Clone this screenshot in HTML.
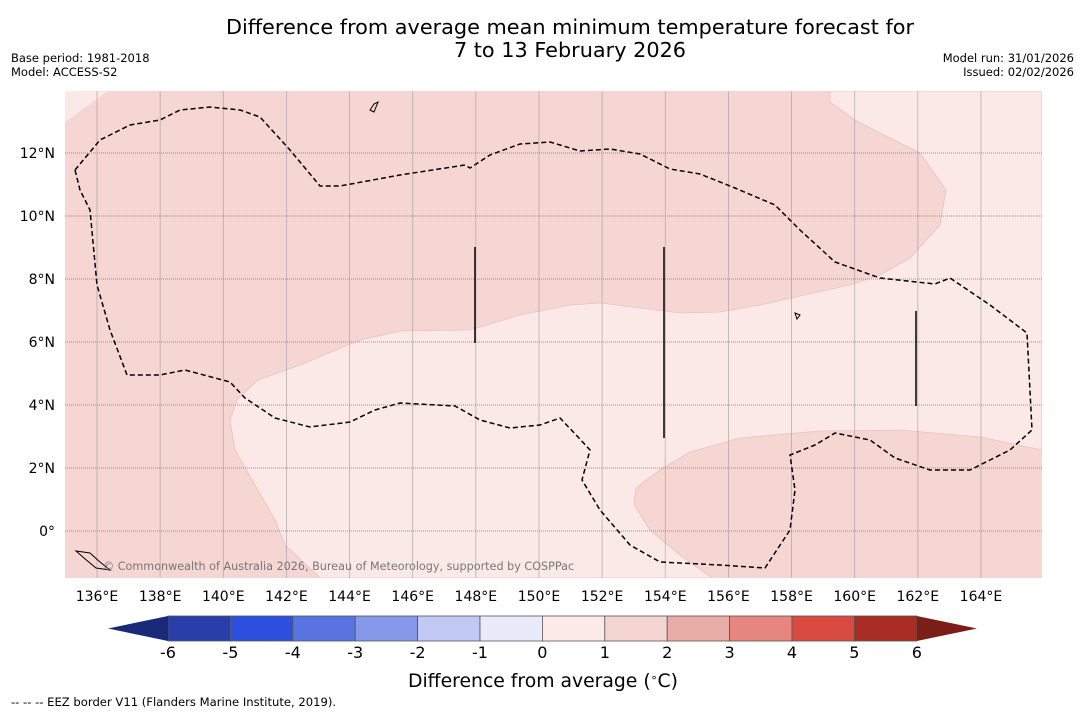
<!DOCTYPE html>
<html><head><meta charset="utf-8"><style>
body{margin:0;background:#fff;width:1085px;height:713px;overflow:hidden;font-family:"Liberation Sans","DejaVu Sans",sans-serif}
svg{display:block}
</style></head><body>
<svg id="chart" width="1085" height="713" xmlns="http://www.w3.org/2000/svg">
<text x="570" y="34" font-size="20.8" text-anchor="middle" font-family="DejaVu Sans,sans-serif">Difference from average mean minimum temperature forecast for</text>
<text x="570" y="57" font-size="20.8" text-anchor="middle" font-family="DejaVu Sans,sans-serif">7 to 13 February 2026</text>
<text x="11" y="62" font-size="11.5" font-family="DejaVu Sans,sans-serif">Base period: 1981-2018</text>
<text x="11" y="76" font-size="11.5" font-family="DejaVu Sans,sans-serif">Model: ACCESS-S2</text>
<text x="1074" y="62" font-size="11.5" text-anchor="end" font-family="DejaVu Sans,sans-serif">Model run: 31/01/2026</text>
<text x="1074" y="76" font-size="11.5" text-anchor="end" font-family="DejaVu Sans,sans-serif">Issued: 02/02/2026</text>
<defs><clipPath id="mc"><rect x="65" y="91" width="977" height="487"/></clipPath></defs>
<g clip-path="url(#mc)">
<rect x="65" y="91" width="977" height="487" fill="#f5d6d3"/>
<path d="M65,91 L108,91 L65,122 Z" fill="#fbe9e7"/>
<path d="M1042,450 L980,437 L900,430 L820,431 L740,438 L690,452 L660,470 L636,488 L634,505 L650,530 L680,555 L712,578 L320,578 L285,545 L275,520 L255,485 L235,450 L230,420 L238,398 L258,380 L300,365 L360,340 L400,331 L470,330 L520,315 L570,305 L600,303 L680,313 L720,312 L760,305 L800,296 L850,285 L880,275 L910,258 L940,225 L946,190 L920,153 L880,133 L855,120 L830,102 L830,91 L1042,91 Z" fill="#fbe9e7" stroke="#e0b8b4" stroke-width="0.6"/>
<g id="grid"></g>
<path d="M75,170 L100,140 L130,125 L160,120 L180,110 L210,107 L240,110 L260,117 L290,150 L320,186 L340,186 L400,175 L465,165 L470,168 L490,155 L520,144 L550,142 L580,151 L610,149 L640,154 L670,169 L700,174 L735,188 L775,205 L800,230 L835,262 L880,278 L935,284 L950,278 L990,305 L1027,333 L1032,430 L1010,450 L970,470 L930,470 L895,458 L870,440 L835,433 L815,445 L790,455 L795,490 L790,530 L765,568 L720,565 L660,562 L630,545 L600,510 L582,480 L590,450 L578,437 L560,418 L540,425 L510,428 L480,420 L455,406 L400,403 L375,410 L350,422 L310,427 L275,418 L245,398 L230,382 L185,370 L160,375 L127,375 L110,330 L97,285 L90,210 L80,190 Z" fill="none" stroke="#000" stroke-width="1.5" stroke-dasharray="5,3"/>
<line x1="475" y1="247" x2="475" y2="343" stroke="#000" stroke-width="1.5"/>
<line x1="664" y1="247" x2="664" y2="438" stroke="#000" stroke-width="1.5"/>
<line x1="916" y1="311" x2="916" y2="406" stroke="#000" stroke-width="1.5"/>
<path d="M370,110 L374,104 L378,102 L374,112 Z M76,551 L90,553 L100,562 L110,570 L96,568 L84,558 Z M795,313 L800,315 L797,319 Z" fill="none" stroke="#000" stroke-width="1"/>
<text x="103" y="570" font-size="11.2" fill="#777" font-family="DejaVu Sans,sans-serif">© Commonwealth of Australia 2026, Bureau of Meteorology, supported by COSPPac</text>
</g>
<g id="axes"></g>
<g id="cbar"></g>
<text x="543" y="687" font-size="18.8" text-anchor="middle" font-family="DejaVu Sans,sans-serif">Difference from average (<tspan baseline-shift="super" font-size="11">∘</tspan>C)</text>
<text x="11" y="706" font-size="11.6" font-family="DejaVu Sans,sans-serif">--  --  -- EEZ border V11 (Flanders Marine Institute, 2019).</text>
</svg>
<script>
const lonTicks=[136,138,140,142,144,146,148,150,152,154,156,158,160,162,164];
const latTicks=[0,2,4,6,8,10,12];
const cbLevels=[-6,-5,-4,-3,-2,-1,0,1,2,3,4,5,6];
const cbColors=["#283fab","#2e50e0","#5a73e2","#8698ea","#c1c8f3","#e9ebfa","#fcebe9","#f5d5d2","#eaaca6","#e6867f","#d94b41","#a92c25"];
const NS="http://www.w3.org/2000/svg";
const xLon=l=>97+(l-136)*31.57;
const yLat=l=>531-l*31.5;
const cx=v=>168+(v+6)*62.4;
function mk(t,a,p){const e=document.createElementNS(NS,t);for(const k in a)e.setAttribute(k,a[k]);p.appendChild(e);return e;}
const grid=document.getElementById('grid'),axes=document.getElementById('axes'),cb=document.getElementById('cbar');
lonTicks.forEach(l=>{
 const g=mk('line',{x1:xLon(l),x2:xLon(l),y1:91,y2:578,stroke:'#999','stroke-width':0.8,'stroke-opacity':0.7},grid);
 
 
 const t=mk('text',{x:xLon(l),y:601,'font-size':14,'text-anchor':'middle','font-family':'DejaVu Sans,sans-serif'},axes);
 t.textContent=l+'°E';
 
 
});
latTicks.forEach(l=>{
 const g=mk('line',{x1:65,x2:1042,y1:yLat(l),y2:yLat(l),stroke:'#777','stroke-width':0.8,'stroke-dasharray':'1,1'},grid);
 
 
 const t=mk('text',{x:55,y:yLat(l)+5,'font-size':14,'text-anchor':'end','font-family':'DejaVu Sans,sans-serif'},axes);
 t.textContent=l===0?'0°':l+'°N';
 
 
});
cbColors.forEach((c,i)=>{
 const r=mk('rect',{x:cx(cbLevels[i]),y:616,width:cx(cbLevels[i+1])-cx(cbLevels[i]),height:25,fill:c,stroke:'#555','stroke-width':0.8},cb);
 
 
});
const la=mk('path',{d:`M${cx(-6)},616 L108,628.5 L${cx(-6)},641 Z`,fill:'#1b2a78'},cb);


const ra=mk('path',{d:`M${cx(6)},616 L977,628.5 L${cx(6)},641 Z`,fill:'#7a1e17'},cb);


cbLevels.forEach(v=>{
 const t=mk('text',{x:cx(v),y:658,'font-size':16,'text-anchor':'middle','font-family':'DejaVu Sans,sans-serif'},cb);
 t.textContent=v;
 
 
});
</script>
</body></html>
